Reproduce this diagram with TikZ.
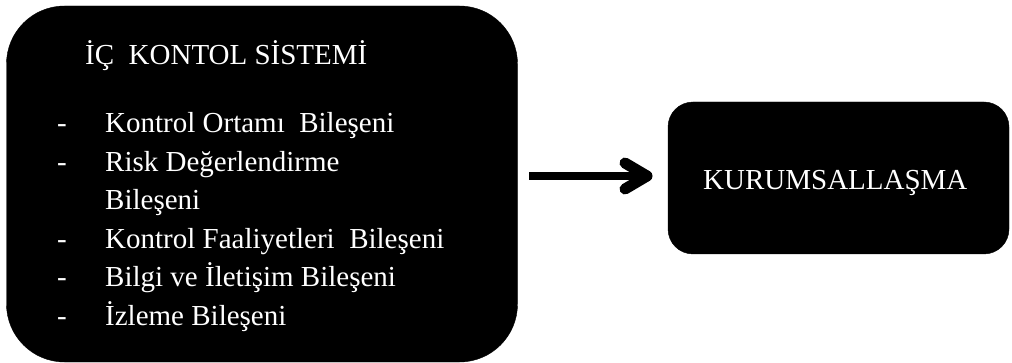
\documentclass[tikz,border=0pt]{standalone}
\usepackage{fontspec}
\setmainfont{Liberation Serif}
\begin{document}
\begin{tikzpicture}[x=1pt,y=-1pt,
  blackbox/.style={draw=black,fill=black,inner sep=0pt},
  boxtext/.style={text=white,font=\fontsize{29}{34}\selectfont,anchor=base west,inner sep=0pt},
  shaft/.style={line width=8pt,black},
  barb/.style={line width=11pt,black,line cap=round,line join=round}]
\useasboundingbox (0,0) rectangle (1012,363);
\node[blackbox,minimum width=511pt,minimum height=356pt,rounded corners=58pt] (sys) at (262,184) {};
\node[blackbox,minimum width=341pt,minimum height=152pt,rounded corners=25pt] (kur) at (838.5,178) {};
\node[boxtext] (title) at (85,65) {İÇ\ \ KONTOL SİSTEMİ};
\node[boxtext] (d1) at (57,133) {-};
\node[boxtext] (i1) at (105,133) {Kontrol Ortamı\ \ Bileşeni};
\node[boxtext] (d2) at (57,171.5) {-};
\node[boxtext] (i2) at (105,171.5) {Risk Değerlendirme};
\node[boxtext] (i2b) at (105,210) {Bileşeni};
\node[boxtext] (d3) at (57,248.5) {-};
\node[boxtext] (i3) at (105,248.5) {Kontrol Faaliyetleri\ \ Bileşeni};
\node[boxtext] (d4) at (57,287) {-};
\node[boxtext] (i4) at (105,287) {Bilgi ve İletişim Bileşeni};
\node[boxtext] (d5) at (57,325.5) {-};
\node[boxtext] (i5) at (105,325.5) {İzleme Bileşeni};
\node[boxtext] (kt) at (703,190) {KURUMSALLAŞMA};
\coordinate (a) at (529,176);
\coordinate (b) at (647,176);
\draw[shaft] (a) -- (b);
\draw[barb] ([shift={(-22,-13)}]b) -- (b) -- ([shift={(-22,13)}]b);
\end{tikzpicture}
\end{document}
